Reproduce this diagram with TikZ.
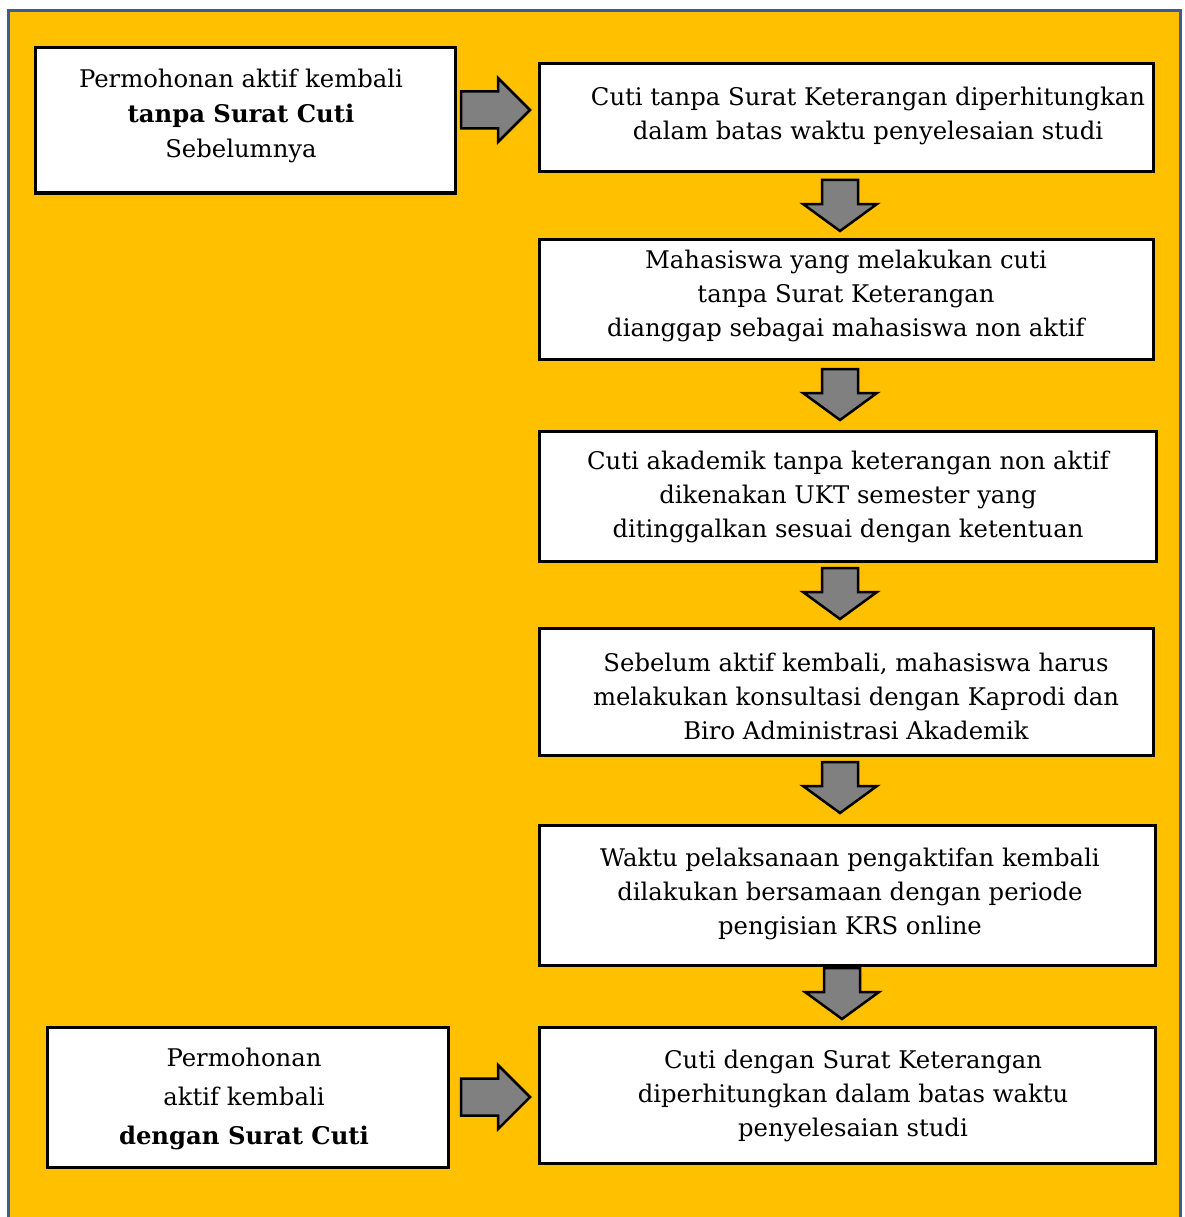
\documentclass[tikz,border=0pt]{standalone}
\usepackage{fontspec}
\setmainfont{DejaVu Serif}
\definecolor{bgyellow}{HTML}{FFC000}
\definecolor{frameblue}{RGB}{60,92,150}
\definecolor{arrowgray}{HTML}{808080}
\begin{document}
\begin{tikzpicture}[x=1pt,y=-1pt,
  box/.style={draw=black,line width=3pt,fill=white,inner sep=0pt},
  txt/.style={align=center,inner sep=0pt,font=\fontsize{24.3}{34}\selectfont},
  blockarrow/.style={draw=black,line width=2.5pt,fill=arrowgray,line join=miter},
  darrow/.pic={\draw[blockarrow] (-18,0)--(18,0)--(18,24)--(37,24)--(0,51)--(-37,24)--(-18,24)--cycle;},
  rarrow/.pic={\draw[blockarrow] (0,-18.5)--(37,-18.5)--(37,-32)--(69,0)--(37,32)--(37,18.5)--(0,18.5)--cycle;}
]
\useasboundingbox (0,0) rectangle (1184,1217);
\clip (0,0) rectangle (1184,1217);
\fill[white] (0,0) rectangle (1184,1217);
\draw[frameblue,line width=3pt,fill=bgyellow] (8.5,10.5) rectangle (1180.5,1240);
% boxes
\node[box,minimum width=420,minimum height=145] (bA) at (245,120.5) {};
\node[box,minimum width=614,minimum height=108] (b1) at (846,118) {};
\node[box,minimum width=614,minimum height=120] (b2) at (846,299) {};
\node[box,minimum width=617,minimum height=130] (b3) at (847.5,496) {};
\node[box,minimum width=614,minimum height=127] (b4) at (846,691.5) {};
\node[box,minimum width=616,minimum height=140] (b5) at (847,895) {};
\node[box,minimum width=616,minimum height=136] (b6) at (847,1095) {};
\node[box,minimum width=401,minimum height=140] (bB) at (247.5,1097) {};
% texts
\node[txt] (tA) at (241,116) {Permohonan aktif kembali\\[1pt]\textbf{tanpa Surat Cuti}\\[1pt]Sebelumnya};
\node[txt] (t1) at (868,116) {Cuti tanpa Surat Keterangan diperhitungkan\\dalam batas waktu penyelesaian studi};
\node[txt] (t2) at (846,296) {Mahasiswa yang melakukan cuti\\tanpa Surat Keterangan\\dianggap sebagai mahasiswa non aktif};
\node[txt] (t3) at (848,497) {Cuti akademik tanpa keterangan non aktif\\dikenakan UKT semester yang\\ditinggalkan sesuai dengan ketentuan};
\node[txt] (t4) at (856,696) {Sebelum aktif kembali, mahasiswa harus\\melakukan konsultasi dengan Kaprodi dan\\Biro Administrasi Akademik};
\node[txt] (t5) at (850,894) {Waktu pelaksanaan pengaktifan kembali\\dilakukan bersamaan dengan periode\\pengisian KRS online};
\node[txt] (t6) at (853,1096) {Cuti dengan Surat Keterangan\\diperhitungkan dalam batas waktu\\penyelesaian studi};
\node[txt] (tB) at (244,1099) {Permohonan\\[5pt]aktif kembali\\[5pt]\textbf{dengan Surat Cuti}};
% arrows
\pic at (461,110) {rarrow};
\pic at (461,1097) {rarrow};
\pic at (840,180) {darrow};
\pic at (840,369) {darrow};
\pic at (840,568) {darrow};
\pic at (840,762) {darrow};
\pic at (842,968) {darrow};
\end{tikzpicture}
\end{document}
